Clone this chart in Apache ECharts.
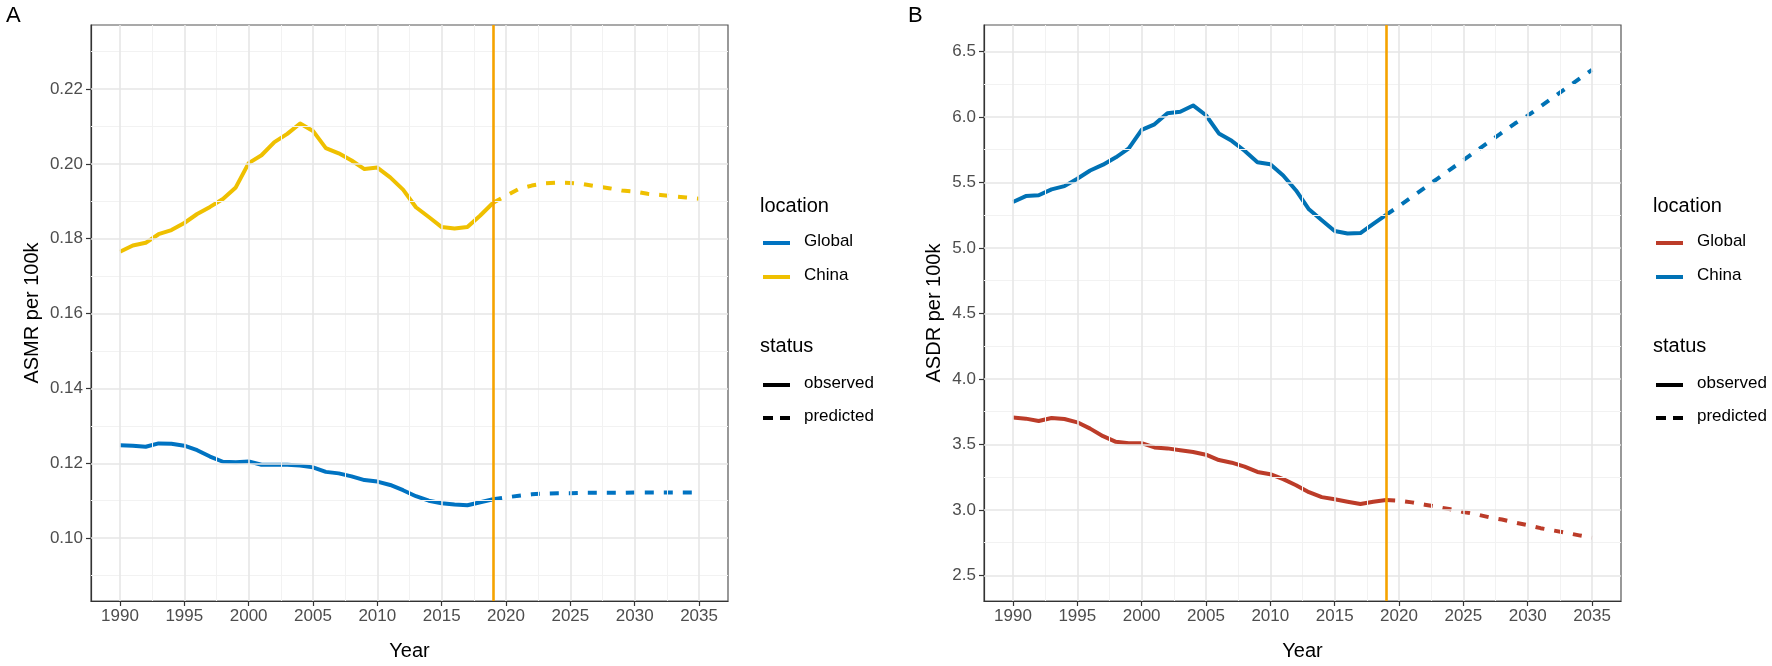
<!DOCTYPE html>
<html>
<head>
<meta charset="utf-8">
<script src="https://cdn.jsdelivr.net/npm/echarts@6/dist/echarts.min.js"></script>
<style>
html,body{margin:0;padding:0;background:#fff;}
#chart{width:1772px;height:666px;}
</style>
</head>
<body>
<div id="chart"></div>
<script>
// ---------- data ----------
const yearsObs = [1990,1991,1992,1993,1994,1995,1996,1997,1998,1999,2000,2001,2002,2003,2004,2005,2006,2007,2008,2009,2010,2011,2012,2013,2014,2015,2016,2017,2018,2019];
const yearsPred = [2019,2020,2021,2022,2023,2024,2025,2026,2027,2028,2029,2030,2031,2032,2033,2034,2035];

const asmrChinaObs = [0.1765,0.1782,0.1789,0.1812,0.1823,0.1842,0.1866,0.1885,0.1906,0.1937,0.2002,0.2023,0.2058,0.2080,0.2108,0.2088,0.2042,0.2028,0.2009,0.1986,0.1990,0.1964,0.1931,0.1884,0.1858,0.1831,0.1827,0.1831,0.1862,0.1896];
const asmrChinaPred = [0.1896,0.1915,0.1933,0.1942,0.1948,0.1950,0.1949,0.1946,0.1940,0.1935,0.1929,0.1926,0.1920,0.1917,0.1913,0.1910,0.1907];
const asmrGlobalObs = [0.1248,0.1247,0.1244,0.1253,0.1252,0.1247,0.1235,0.1218,0.1204,0.1203,0.1205,0.1196,0.1196,0.1196,0.1194,0.1189,0.1177,0.1173,0.1165,0.1155,0.1151,0.1142,0.1128,0.1112,0.1100,0.1093,0.1090,0.1088,0.1096,0.1104];
const asmrGlobalPred = [0.1104,0.1109,0.1113,0.1117,0.1119,0.1120,0.1120,0.1121,0.1121,0.1121,0.1121,0.1122,0.1122,0.1122,0.1122,0.1122,0.1122];

const asdrChinaObs = [5.351,5.396,5.402,5.447,5.472,5.528,5.591,5.636,5.692,5.760,5.902,5.944,6.028,6.040,6.088,6.013,5.874,5.818,5.742,5.654,5.639,5.553,5.439,5.295,5.212,5.129,5.111,5.114,5.184,5.253];
const asdrChinaPred = [5.253,5.32,5.39,5.46,5.53,5.60,5.67,5.74,5.81,5.88,5.95,6.01,6.08,6.15,6.22,6.29,6.36];
const asdrGlobalObs = [3.705,3.697,3.679,3.702,3.694,3.669,3.621,3.563,3.520,3.510,3.510,3.477,3.470,3.455,3.442,3.422,3.381,3.361,3.331,3.290,3.273,3.235,3.189,3.136,3.098,3.081,3.063,3.045,3.063,3.076];
const asdrGlobalPred = [3.076,3.071,3.058,3.040,3.023,3.005,2.985,2.967,2.944,2.927,2.904,2.884,2.861,2.843,2.826,2.806,2.788];

const xTicks = [1990,1995,2000,2005,2010,2015,2020,2025,2030,2035];
const xMinor = [1992.5,1997.5,2002.5,2007.5,2012.5,2017.5,2022.5,2027.5,2032.5];
const asmrTicks = [0.10,0.12,0.14,0.16,0.18,0.20,0.22];
const asmrMinor = [0.09,0.11,0.13,0.15,0.17,0.19,0.21,0.23];
const asdrTicks = [2.5,3.0,3.5,4.0,4.5,5.0,5.5,6.0,6.5];
const asdrMinor = [2.75,3.25,3.75,4.25,4.75,5.25,5.75,6.25];
const cutYear = 2019;

const locations = ['Global','China'];
const statuses = ['observed','predicted'];
const colorsA = {Global:'#0073C2', China:'#EFC000'};
const colorsB = {Global:'#BC3C29', China:'#0072B5'};
const vlineColor = '#F5A300';

// ---------- helpers ----------
const FONT = '"Liberation Sans", Arial, Helvetica, sans-serif';
const pairs = (xs, ys) => xs.map((x, i) => [x, ys[i]]);

function gridSeries(idx, yMajor, yMinorVals) {
  const ml = (arr, key, color, width) => arr.map(v => ({[key]: v, lineStyle:{color, width, type:'solid'}}));
  return {
    type:'line', xAxisIndex:idx, yAxisIndex:idx, data:[], silent:true, z:0,
    markLine:{
      silent:true, symbol:['none','none'], label:{show:false}, animation:false,
      data:[].concat(
        ml(xMinor,'xAxis','#F2F2F2',1),
        ml(yMinorVals,'yAxis','#F2F2F2',1),
        ml(xTicks,'xAxis','#E6E6E6',1.6),
        ml(yMajor,'yAxis','#E6E6E6',1.6)
      )
    }
  };
}
function lineSeries(idx, name, data, color, dashed) {
  return {
    type:'line', name, xAxisIndex:idx, yAxisIndex:idx, data, showSymbol:false, symbol:'none',
    z:3, animation:false,
    lineStyle:{color, width:4, type: dashed ? [9,10] : 'solid', cap:'butt', join:'round'}
  };
}
function vline(idx) {
  return {
    type:'line', xAxisIndex:idx, yAxisIndex:idx, data:[], silent:true, z:6,
    markLine:{silent:true, symbol:['none','none'], label:{show:false}, animation:false,
      data:[{xAxis:cutYear, lineStyle:{color:vlineColor, width:2.6, type:'solid'}}]}
  };
}
function xAxisDef(idx) {
  return {
    type:'value', gridIndex:idx, min:1987.75, max:2037.25,
    name:'Year', nameLocation:'middle', nameGap:40,
    nameTextStyle:{color:'#000', fontSize:20, fontFamily:FONT},
    axisLine:{show:true, onZero:false, lineStyle:{color:'#333', width:1.2}},
    axisTick:{show:true, length:5, lineStyle:{color:'#333', width:1.2}, customValues:xTicks},
    axisLabel:{color:'#4D4D4D', fontSize:17, fontFamily:FONT, margin:7, customValues:xTicks, formatter:v => String(v)},
    splitLine:{show:false}
  };
}
function yAxisDef(idx, name, min, max, ticks, digits, gap) {
  return {
    type:'value', gridIndex:idx, min, max,
    name, nameLocation:'middle', nameGap:gap, nameRotate:90,
    nameTextStyle:{color:'#000', fontSize:20, fontFamily:FONT},
    axisLine:{show:true, onZero:false, lineStyle:{color:'#333', width:1.2}},
    axisTick:{show:true, length:5, lineStyle:{color:'#333', width:1.2}, customValues:ticks},
    axisLabel:{color:'#4D4D4D', fontSize:17, fontFamily:FONT, margin:8, customValues:ticks, formatter:v => v.toFixed(digits)},
    splitLine:{show:false}
  };
}

function legendGraphics(x0, colors) {
  const g = [];
  const text = (x, y, t, size) => ({type:'text', left:x, top:y - size*0.6, style:{text:t, fill:'#000', font:`${size}px ${FONT}`}});
  g.push(text(x0, 208, 'location', 20));
  [243, 277].forEach((y, i) => {
    g.push({type:'line', shape:{x1:x0+3, y1:y, x2:x0+30, y2:y}, style:{stroke:colors[locations[i]], lineWidth:4}});
    g.push(text(x0+44, y, locations[i], 17));
  });
  g.push(text(x0, 348, 'status', 20));
  g.push({type:'line', shape:{x1:x0+3, y1:385, x2:x0+30, y2:385}, style:{stroke:'#000', lineWidth:4}});
  g.push(text(x0+44, 385, statuses[0], 17));
  g.push({type:'line', shape:{x1:x0+3, y1:418, x2:x0+13, y2:418}, style:{stroke:'#000', lineWidth:4}});
  g.push({type:'line', shape:{x1:x0+20, y1:418, x2:x0+30, y2:418}, style:{stroke:'#000', lineWidth:4}});
  g.push(text(x0+44, 418, statuses[1], 17));
  return g;
}

const chart = echarts.init(document.getElementById('chart'), null, {renderer:'canvas'});
const option = {
  backgroundColor:'#fff',
  animation:false,
  grid:[
    {left:91, top:25, width:637, height:580, show:true, borderColor:'#555', borderWidth:1.2, backgroundColor:'#fff'},
    {left:984, top:25, width:637, height:580, show:true, borderColor:'#555', borderWidth:1.2, backgroundColor:'#fff'}
  ],
  xAxis:[xAxisDef(0), xAxisDef(1)],
  yAxis:[
    yAxisDef(0, 'ASMR per 100k', 0.0832, 0.2371, asmrTicks, 2, 49),
    yAxisDef(1, 'ASDR per 100k', 2.305, 6.702, asdrTicks, 1, 40)
  ],
  series:[
    gridSeries(0, asmrTicks, asmrMinor),
    gridSeries(1, asdrTicks, asdrMinor),
    lineSeries(0, 'Global', pairs(yearsObs, asmrGlobalObs), colorsA.Global, false),
    lineSeries(0, 'Global', pairs(yearsPred, asmrGlobalPred), colorsA.Global, true),
    lineSeries(0, 'China', pairs(yearsObs, asmrChinaObs), colorsA.China, false),
    lineSeries(0, 'China', pairs(yearsPred, asmrChinaPred), colorsA.China, true),
    lineSeries(1, 'Global', pairs(yearsObs, asdrGlobalObs), colorsB.Global, false),
    lineSeries(1, 'Global', pairs(yearsPred, asdrGlobalPred), colorsB.Global, true),
    lineSeries(1, 'China', pairs(yearsObs, asdrChinaObs), colorsB.China, false),
    lineSeries(1, 'China', pairs(yearsPred, asdrChinaPred), colorsB.China, true),
    vline(0), vline(1)
  ],
  graphic:[
    {type:'text', left:6, top:5, style:{text:'A', fill:'#000', font:`22px ${FONT}`}},
    {type:'text', left:908, top:5, style:{text:'B', fill:'#000', font:`22px ${FONT}`}}
  ].concat(legendGraphics(760, colorsA), legendGraphics(1653, colorsB))
};
chart.setOption(option);
</script>
</body>
</html>
